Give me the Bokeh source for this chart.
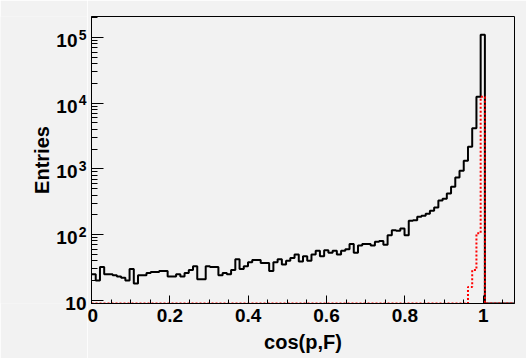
from bokeh.plotting import figure
from bokeh.layouts import row
from bokeh.models import Range1d, FixedTicker, Label
from bokeh.core.properties import value
from bokeh.embed import file_html
from bokeh.resources import INLINE
import numpy as np

# histogram binning
n_bins = 100
x_lo, x_hi = 0.0, 1.08
y_lo, y_hi = 8.94, 2.09e5

black_counts = [
    25, 20, 32, 25, 25, 24, 23, 22, 20, 30,
    18, 24, 24, 26, 27, 27, 28, 28, 23, 23,
    25, 23, 26, 29, 33, 21, 21, 33, 32, 32,
    24, 26, 25, 29, 42, 30, 33, 38, 41, 41,
    37, 37, 28, 38, 42, 35, 40, 44, 50, 39,
    47, 40, 50, 57, 47, 58, 53, 57, 50, 57,
    60, 72, 53, 68, 72, 72, 68, 78, 80, 70,
    98, 117, 114, 124, 98, 162, 166, 187, 193, 208,
    230, 258, 330, 350, 423, 535, 740, 935, 1330, 2170,
    4170, 12500, 110000, 0, 0, 0, 0, 0, 0, 0,
]
red_counts = [
    0, 0, 0, 0, 0, 0, 0, 0, 0, 0,
    0, 0, 0, 0, 0, 0, 0, 0, 0, 0,
    0, 0, 0, 0, 0, 0, 0, 0, 0, 0,
    0, 0, 0, 0, 0, 0, 0, 0, 0, 0,
    0, 0, 0, 0, 0, 0, 0, 0, 0, 0,
    0, 0, 0, 0, 0, 0, 0, 0, 0, 0,
    0, 0, 0, 0, 0, 0, 0, 0, 0, 0,
    0, 0, 0, 0, 0, 0, 0, 0, 0, 0,
    0, 0, 0, 0, 0, 0, 0, 0, 0, 16,
    29, 105, 12500, 0, 0, 0, 0, 0, 0, 0,
]

x_ticks = [0.0, 0.2, 0.4, 0.6, 0.8, 1.0]
x_tick_labels = ["0", "0.2", "0.4", "0.6", "0.8", "1"]
y_ticks = [10, 100, 1000, 10000, 100000]
y_tick_bases = ["10", "10", "10", "10", "10"]
y_tick_exponents = ["", "2", "3", "4", "5"]
x_title = "cos(p,F)"
y_title = "Entries"

BG = "#f2f2f2"
FONT = "Liberation Sans"

W, H = 526, 358
LEFT_W = 87            # width of the strip that carries the y labels/title
FRAME_LEFT = 91        # frame starts here (pixels)
TOP, BOTTOM = 16, 55

# ---------------- main plot ----------------
yr = Range1d(y_lo, y_hi)
p = figure(width=W - LEFT_W, height=H,
           x_range=Range1d(x_lo, x_hi), y_range=yr,
           y_axis_type="log", output_backend="svg", toolbar_location=None,
           min_border_left=FRAME_LEFT - LEFT_W, min_border_right=12,
           min_border_top=TOP, min_border_bottom=BOTTOM)

p.background_fill_color = BG
p.border_fill_color = BG
p.outline_line_color = "black"
p.outline_line_width = 1
p.xgrid.visible = False
p.ygrid.visible = False

edges = np.linspace(x_lo, x_hi, n_bins + 1)


def step_y(counts):
    c = np.asarray(counts, dtype=float)
    c = np.where(c > 0, c, y_lo)
    return np.append(c, c[-1])


p.step(x=edges, y=step_y(black_counts), mode="after",
       line_color="black", line_width=2)
p.step(x=edges, y=step_y(red_counts), mode="after",
       line_color="#ff0000", line_width=2, line_dash="2 2")

xminor = [round(0.05 * k, 2) for k in range(0, 22)]
p.xaxis.ticker = FixedTicker(ticks=x_ticks, minor_ticks=xminor)
p.xaxis.major_label_overrides = dict(zip(x_ticks, x_tick_labels))
p.xaxis.major_tick_in = 8
p.xaxis.major_tick_out = 0
p.xaxis.minor_tick_in = 4
p.xaxis.minor_tick_out = 0
p.xaxis.axis_label = x_title
p.xaxis.major_label_standoff = 5
p.xaxis.axis_label_standoff = 6
p.xaxis.axis_label_text_font = FONT
p.xaxis.axis_label_text_font_style = "bold"
p.xaxis.axis_label_text_font_size = "20px"
p.xaxis.axis_label_text_color = "black"

yminor = [m * 10 ** e for e in range(0, 6) for m in range(2, 10)]
p.yaxis.ticker = FixedTicker(ticks=y_ticks, minor_ticks=yminor)
p.yaxis.major_label_overrides = {t: "" for t in y_ticks}
p.yaxis.major_tick_in = 12
p.yaxis.major_tick_out = 0
p.yaxis.minor_tick_in = 6
p.yaxis.minor_tick_out = 0
p.yaxis.major_label_standoff = 0

for ax in (p.xaxis[0], p.yaxis[0]):
    ax.axis_line_color = "black"
    ax.major_tick_line_color = "black"
    ax.minor_tick_line_color = "black"
    ax.major_label_text_font = FONT
    ax.major_label_text_font_style = "bold"
    ax.major_label_text_font_size = "19px"
    ax.major_label_text_color = "black"

# ---------------- left strip with y tick labels and y title ----------------
# (its frame is aligned with the main frame by the row layout)
s = figure(width=LEFT_W, height=H,
           x_range=Range1d(-FRAME_LEFT, LEFT_W - FRAME_LEFT),
           y_range=yr, y_axis_type="log",
           x_axis_location=None, y_axis_location=None,
           output_backend="svg", toolbar_location=None,
           min_border_left=0, min_border_right=0,
           min_border_top=TOP, min_border_bottom=BOTTOM)
s.background_fill_color = BG
s.border_fill_color = BG
s.outline_line_color = None
s.xgrid.visible = False
s.ygrid.visible = False

# labels fully inside the frame height -> text glyphs
inner = [i for i, e in enumerate(y_tick_exponents) if e != ""]
s.text(x=[0] * len(inner), y=[y_ticks[i] for i in inner],
       text=[y_tick_bases[i] for i in inner],
       x_offset=-14, y_offset=3,
       text_align="right", text_baseline="middle",
       text_font=value(FONT), text_font_style="bold",
       text_font_size="19px", text_color="black")
s.text(x=[0] * len(inner), y=[y_ticks[i] for i in inner],
       text=[y_tick_exponents[i] for i in inner],
       x_offset=-5, y_offset=-3,
       text_align="right", text_baseline="middle",
       text_font=value(FONT), text_font_style="bold",
       text_font_size="14px", text_color="black")
# label straddling the frame bottom -> unclipped label in a side panel
for i, e in enumerate(y_tick_exponents):
    if e == "":
        s.add_layout(Label(x=0, y=y_ticks[i], text=y_tick_bases[i],
                           x_offset=-5, y_offset=-3,
                           text_align="right", text_baseline="middle",
                           text_font=FONT, text_font_style="bold",
                           text_font_size="19px", text_color="black"),
                     "below")

l0, l1 = np.log10(y_lo), np.log10(y_hi)
s.text(x=[-50], y=[10 ** ((l0 + l1) / 2)], text=[y_title], angle=np.pi / 2,
       text_align="center", text_baseline="alphabetic",
       text_font=value(FONT), text_font_style="bold",
       text_font_size="20px", text_color="black")

layout = row(s, p)
open("out.html", "w").write(file_html(layout, INLINE))
